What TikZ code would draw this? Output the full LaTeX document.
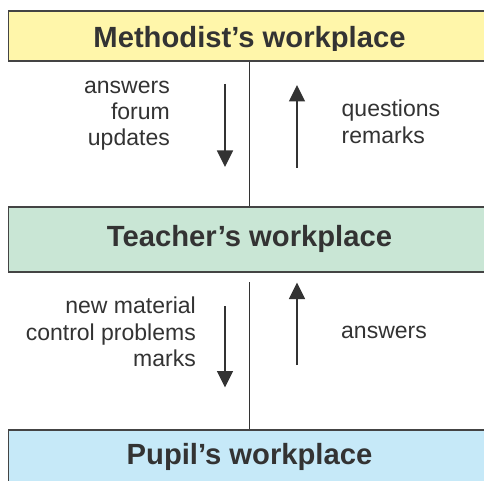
\documentclass[tikz,border=0pt]{standalone}
\usepackage{fontspec}
\setmainfont{Liberation Sans}
\usetikzlibrary{arrows.meta}
\definecolor{txt}{HTML}{333333}
\definecolor{edge}{HTML}{444444}
\definecolor{yel}{HTML}{FFF6AA}
\definecolor{grn}{HTML}{C9E6D5}
\definecolor{blu}{HTML}{C6E9F8}
\tikzset{
  wbox/.style={draw=edge, line width=1.5pt, rectangle, inner sep=0pt, minimum width=481.5pt},
  title/.style={text=txt, font=\bfseries\fontsize{29.2}{34}\selectfont, inner sep=0pt, anchor=base},
  lblR/.style={text=txt, font=\fontsize{23}{26}\selectfont, inner sep=0pt, anchor=base east},
  lblL/.style={text=txt, font=\fontsize{23}{26}\selectfont, inner sep=0pt, anchor=base west},
  flow/.style={draw=txt, line width=1.5pt, -{Triangle[length=16.5pt,width=16pt]}},
  link/.style={draw=txt, line width=1.5pt}
}
\begin{document}
\begin{tikzpicture}[x=1pt,y=-1pt]
\clip (0,0) rectangle (484,481);
\fill[white] (0,0) rectangle (484,481);
% boxes
\node[wbox, fill=yel, minimum height=50pt] (methodist) at (249.25,36) {};
\node[wbox, fill=grn, minimum height=65pt] (teacher) at (249.25,239.5) {};
\node[wbox, fill=blu, minimum height=80pt, anchor=north] (pupil) at (249.25,429) {};
% titles
\begin{scope}
\clip (0,0) rectangle (484,50.5);
\node[title] (methodisttxt) at (249.5,47.7) {Methodist’s workplace};
\end{scope}
\node[title] (teachertxt) at (249.5,246) {Teacher’s workplace};
\node[title] (pupiltxt) at (249.5,464.5) {Pupil’s workplace};
% central links
\coordinate (lowtop) at (249.25,282);
\draw[link] (methodist.south) -- (teacher.north);
\draw[link] (lowtop) -- (pupil.north);
% arrows
\coordinate (d1s) at (225,84);
\coordinate (d1e) at (225,167);
\coordinate (u1s) at (297,168);
\coordinate (u1e) at (297,85);
\coordinate (d2s) at (225,306);
\coordinate (d2e) at (225,387.5);
\coordinate (u2s) at (297,365);
\coordinate (u2e) at (297,282.5);
\draw[flow] (d1s) -- (d1e);
\draw[flow] (u1s) -- (u1e);
\draw[flow] (d2s) -- (d2e);
\draw[flow] (u2s) -- (u2e);
% labels
\node[lblR] (la1) at (170,93.5) {answers};
\node[lblR] (la2) at (170,119.5) {forum};
\node[lblR] (la3) at (170,145.5) {updates};
\node[lblL] (ra1) at (341.5,116.7) {questions};
\node[lblL] (ra2) at (341.5,143.3) {remarks};
\node[lblR] (lb1) at (196,313) {new material};
\node[lblR] (lb2) at (196,340) {control problems};
\node[lblR] (lb3) at (196,366.7) {marks};
\node[lblL] (rb1) at (341,338) {answers};
\end{tikzpicture}
\end{document}
